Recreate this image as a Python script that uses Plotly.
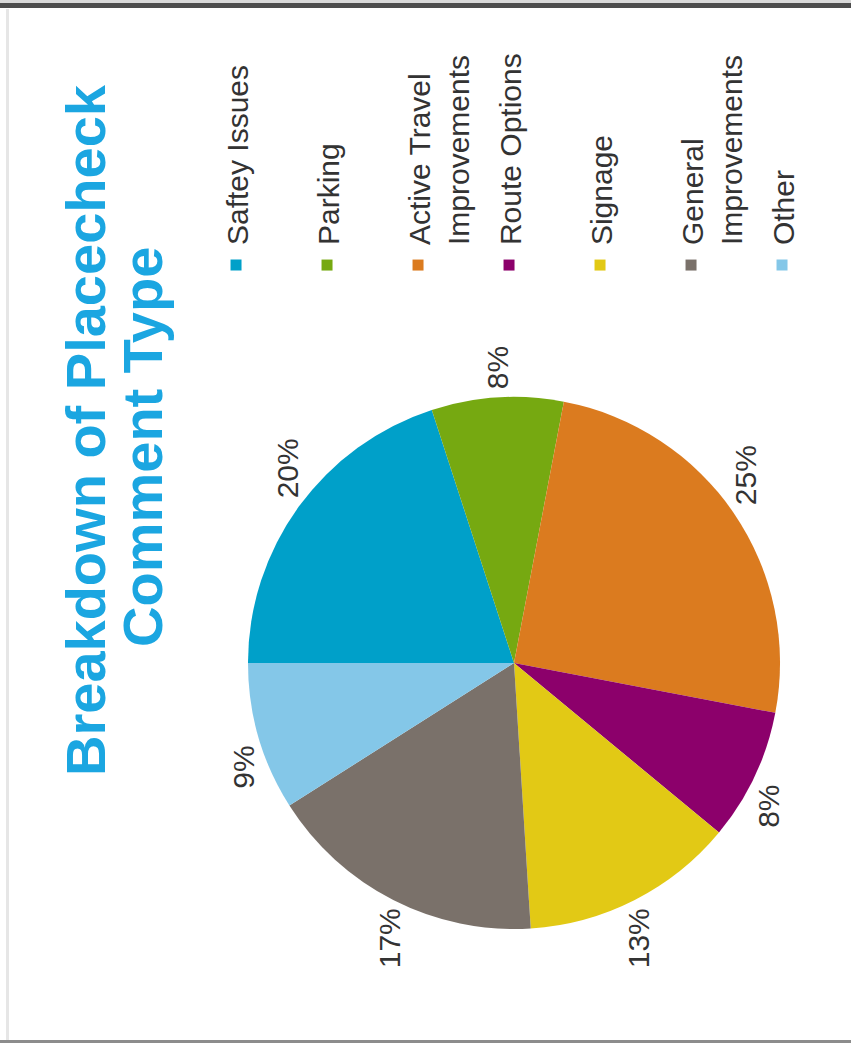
import plotly.graph_objects as go

# ---- data ----
categories = ["Saftey Issues", "Parking", "Active Travel<br>Improvements", "Route Options",
              "Signage", "General<br>Improvements", "Other"]
values = [20, 8, 25, 8, 13, 17, 9]
colors = ["#00A0C9", "#76A911", "#DB7B1F", "#8C006B", "#E2C915", "#7A716A", "#84C7E8"]
title_lines = ["Breakdown of Placecheck", "Comment Type"]

# every legend entry takes two text lines, like the reference's legend slots
legend_labels = [c if "<br>" in c else c + "<br> " for c in categories]

# The figure is built landscape and then turned a quarter turn (see post_script),
# exactly as the reference shows it.
W, H = 1043, 851
FONT = "Liberation Sans, Arial, sans-serif"

fig = go.Figure()
fig.add_trace(go.Pie(
    labels=categories,
    values=values,
    sort=False,
    direction="clockwise",
    rotation=0,
    marker=dict(colors=colors, line=dict(width=0)),
    textinfo="percent",
    texttemplate="%{percent:.0%}",
    textposition="outside",
    outsidetextfont=dict(family=FONT, size=30, color="#333333"),
    hoverinfo="label+percent",
    showlegend=False,
    domain=dict(x=[0.1093, 0.6194], y=[0.0834, 0.7086]),
))

# legend entries (one per category, each its own group so the slot gap applies)
for lab, col in zip(legend_labels, colors):
    fig.add_trace(go.Scatter(
        x=[None], y=[None], mode="markers", name=lab, legendgroup=lab,
        marker=dict(symbol="square", size=11, color=col),
        showlegend=True, hoverinfo="skip",
    ))

annotations = [
    dict(text=title_lines[0], x=0.5877, y=0.9001),
    dict(text=title_lines[1], x=0.5714, y=0.832),
]
for a in annotations:
    a.update(xref="paper", yref="paper", xanchor="center", yanchor="middle",
             showarrow=False,
             font=dict(family=FONT, size=56, color="#1BA6E1"))
    a["text"] = "<b>" + a["text"] + "</b>"

shapes = [
    # frame pieces of the original picture
    dict(type="rect", xref="paper", yref="paper", x0=1035 / W, x1=1040 / W, y0=0, y1=1,
         fillcolor="#4d4d4d", line=dict(width=0)),
    dict(type="rect", xref="paper", yref="paper", x0=1040 / W, x1=1, y0=0, y1=1,
         fillcolor="#d9d9d9", line=dict(width=0)),
    dict(type="rect", xref="paper", yref="paper", x0=3 / W, x1=1034 / W, y0=1 - 9 / H, y1=1 - 6 / H,
         fillcolor="#e6e6e6", line=dict(width=0)),
    dict(type="rect", xref="paper", yref="paper", x0=0, x1=3 / W, y0=0, y1=1,
         fillcolor="#8c8c8c", line=dict(width=0)),
]

fig.update_layout(
    width=W, height=H,
    margin=dict(l=0, r=0, t=0, b=0),
    paper_bgcolor="white",
    plot_bgcolor="white",
    showlegend=True,
    xaxis=dict(visible=False),
    yaxis=dict(visible=False),
    legend=dict(
        x=0.7267, y=0.7532, xanchor="left", yanchor="top",
        traceorder="grouped", tracegroupgap=10, valign="top",
        font=dict(family=FONT, size=30, color="#333333"),
        bgcolor="rgba(0,0,0,0)",
    ),
    annotations=annotations,
    shapes=shapes,
)

post = """
var gd = document.getElementById('{plot_id}');
document.documentElement.style.margin = '0';
document.documentElement.style.overflow = 'hidden';
document.body.style.margin = '0';
document.body.style.overflow = 'hidden';
gd.style.position = 'absolute';
gd.style.left = '0px';
gd.style.top = '0px';
gd.style.transformOrigin = '0 0';
gd.style.transform = 'translate(0px, 1043px) rotate(-90deg)';
"""

fig.write_html("out.html", post_script=post, config={"displayModeBar": False})
